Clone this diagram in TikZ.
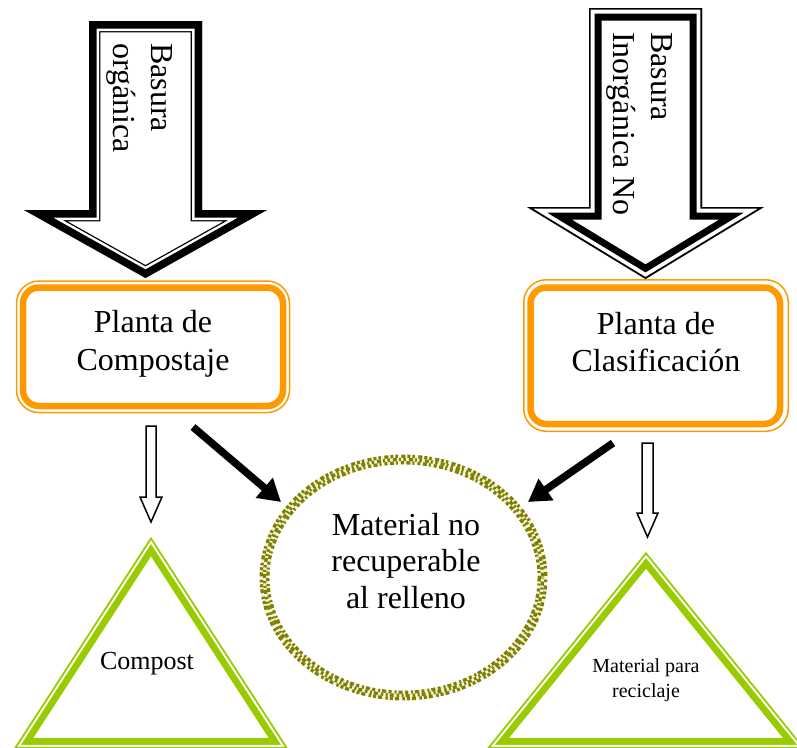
\documentclass[tikz,border=0pt]{standalone}
\usepackage{fontspec}
\setmainfont{Liberation Serif}
\usetikzlibrary{arrows.meta}
\definecolor{boxorange}{RGB}{255,153,0}
\definecolor{trigreen}{RGB}{153,204,0}
\definecolor{ringolive}{RGB}{128,128,0}
\definecolor{ringpale}{RGB}{244,243,222}
% color, inner-most width, white width, outer width, path (clipped so only the inner half shows)
\newcommand{\ttframe}[5]{%
  \begin{scope}
    \clip #5;
    \fill[white] #5;
    \draw[#1, line width=#4, line join=miter] #5;
    \draw[white, line width=#3, line join=miter] #5;
    \draw[#1, line width=#2, line join=miter] #5;
  \end{scope}}
\begin{document}
\begin{tikzpicture}[x=1pt,y=-1pt,
  bigtext/.style={font=\fontsize{32}{37.5}\selectfont, align=center, inner sep=0},
  arrtext/.style={font=\fontsize{32}{38}\selectfont, align=left, inner sep=0, rotate=-90, anchor=north west},
  thickbox/.style={draw=boxorange, line width=6.5, rounded corners=16, outer sep=0, inner sep=0},
  thinbox/.style={draw=boxorange, line width=1.5, rounded corners=22.5},
  hollow/.style={draw=black, fill=white, line width=1.5, line join=miter},
  solidarrow/.style={line width=7.5, -{Triangle[length=22pt,width=25pt]}},
  ring/.style={ringolive, line width=3.3}]
\useasboundingbox (0,0) rectangle (797,747);

% ---- big input arrows
\ttframe{black}{15}{20}{22.6}{(89,21) -- (202,21) -- (202,210) -- (267,210) -- (145.5,278) -- (24,210) -- (89,210) -- cycle}
\ttframe{black}{3.4}{11}{25}{(589,8) -- (702,8) -- (702,207) -- (764,207) -- (645.5,279) -- (527,207) -- (589,207) -- cycle}
\node[arrtext] (inorg) at (173,43) {Basura\\orgánica};
\node[arrtext] (inorgno) at (673,32) {Basura\\Inorgánica No};

% ---- plants
\node[thickbox, minimum width=260, minimum height=118.5] (boxL) at (153,346.75) {};
\draw[thinbox] (16.5,281) rectangle (289.5,412.5);
\node[bigtext, anchor=base] (compostaje) at (153,370) {Planta de\\Compostaje};

\node[thickbox, minimum width=249.5, minimum height=136.5] (boxR) at (655.25,355.75) {};
\draw[thinbox] (523.75,279.75) rectangle (788.25,431.25);
\node[bigtext, anchor=base] (clasif) at (656,371.5) {Planta de\\Clasificación};

% ---- landfill ellipse
\coordinate (ringc) at (403.5,577.5);
\draw[ringpale, line width=9.5] (ringc) ellipse (139 and 118);
\draw[ring, dash pattern=on 4 off 2 on 2 off 3 on 3 off 2.5] (ringc) ellipse (135.7 and 114.7);
\draw[ring, dash pattern=on 2.5 off 3 on 4 off 2 on 2 off 2.5, dash phase=1.5] (ringc) ellipse (139 and 118);
\draw[ring, dash pattern=on 3 off 2 on 2.5 off 3.5 on 4 off 2, dash phase=3] (ringc) ellipse (142.3 and 121.3);
\node[font=\fontsize{32}{36.5}\selectfont, align=center, inner sep=0, anchor=base] (relleno) at (406,608) {Material no\\recuperable\\al relleno};

% ---- output triangles
\ttframe{trigreen}{3.4}{7.4}{21}{(151,537) -- (288,748.5) -- (14,748.5) -- cycle}
\ttframe{trigreen}{3.4}{7.4}{21}{(646,552) -- (805,748.5) -- (487,748.5) -- cycle}
\node[font=\fontsize{26}{30}\selectfont, inner sep=0, anchor=base] (compost) at (147,669) {Compost};
\node[font=\fontsize{20}{25}\selectfont, align=center, inner sep=0, anchor=base] (recic) at (646,697) {Material para\\reciclaje};

% ---- connectors
\draw[hollow] (146,426) -- (156,426) -- (156,497) -- (162,497) -- (151,522) -- (140,497) -- (146,497) -- cycle;
\draw[hollow] (642,443) -- (653,443) -- (653,513) -- (658,513) -- (647.5,537) -- (637,513) -- (642,513) -- cycle;
\coordinate (lfrom) at (193,427);
\coordinate (lto) at (281,502);
\coordinate (rfrom) at (613,443);
\coordinate (rto) at (528,502);
\draw[solidarrow] (lfrom) -- (lto);
\draw[solidarrow] (rfrom) -- (rto);
\end{tikzpicture}
\end{document}
